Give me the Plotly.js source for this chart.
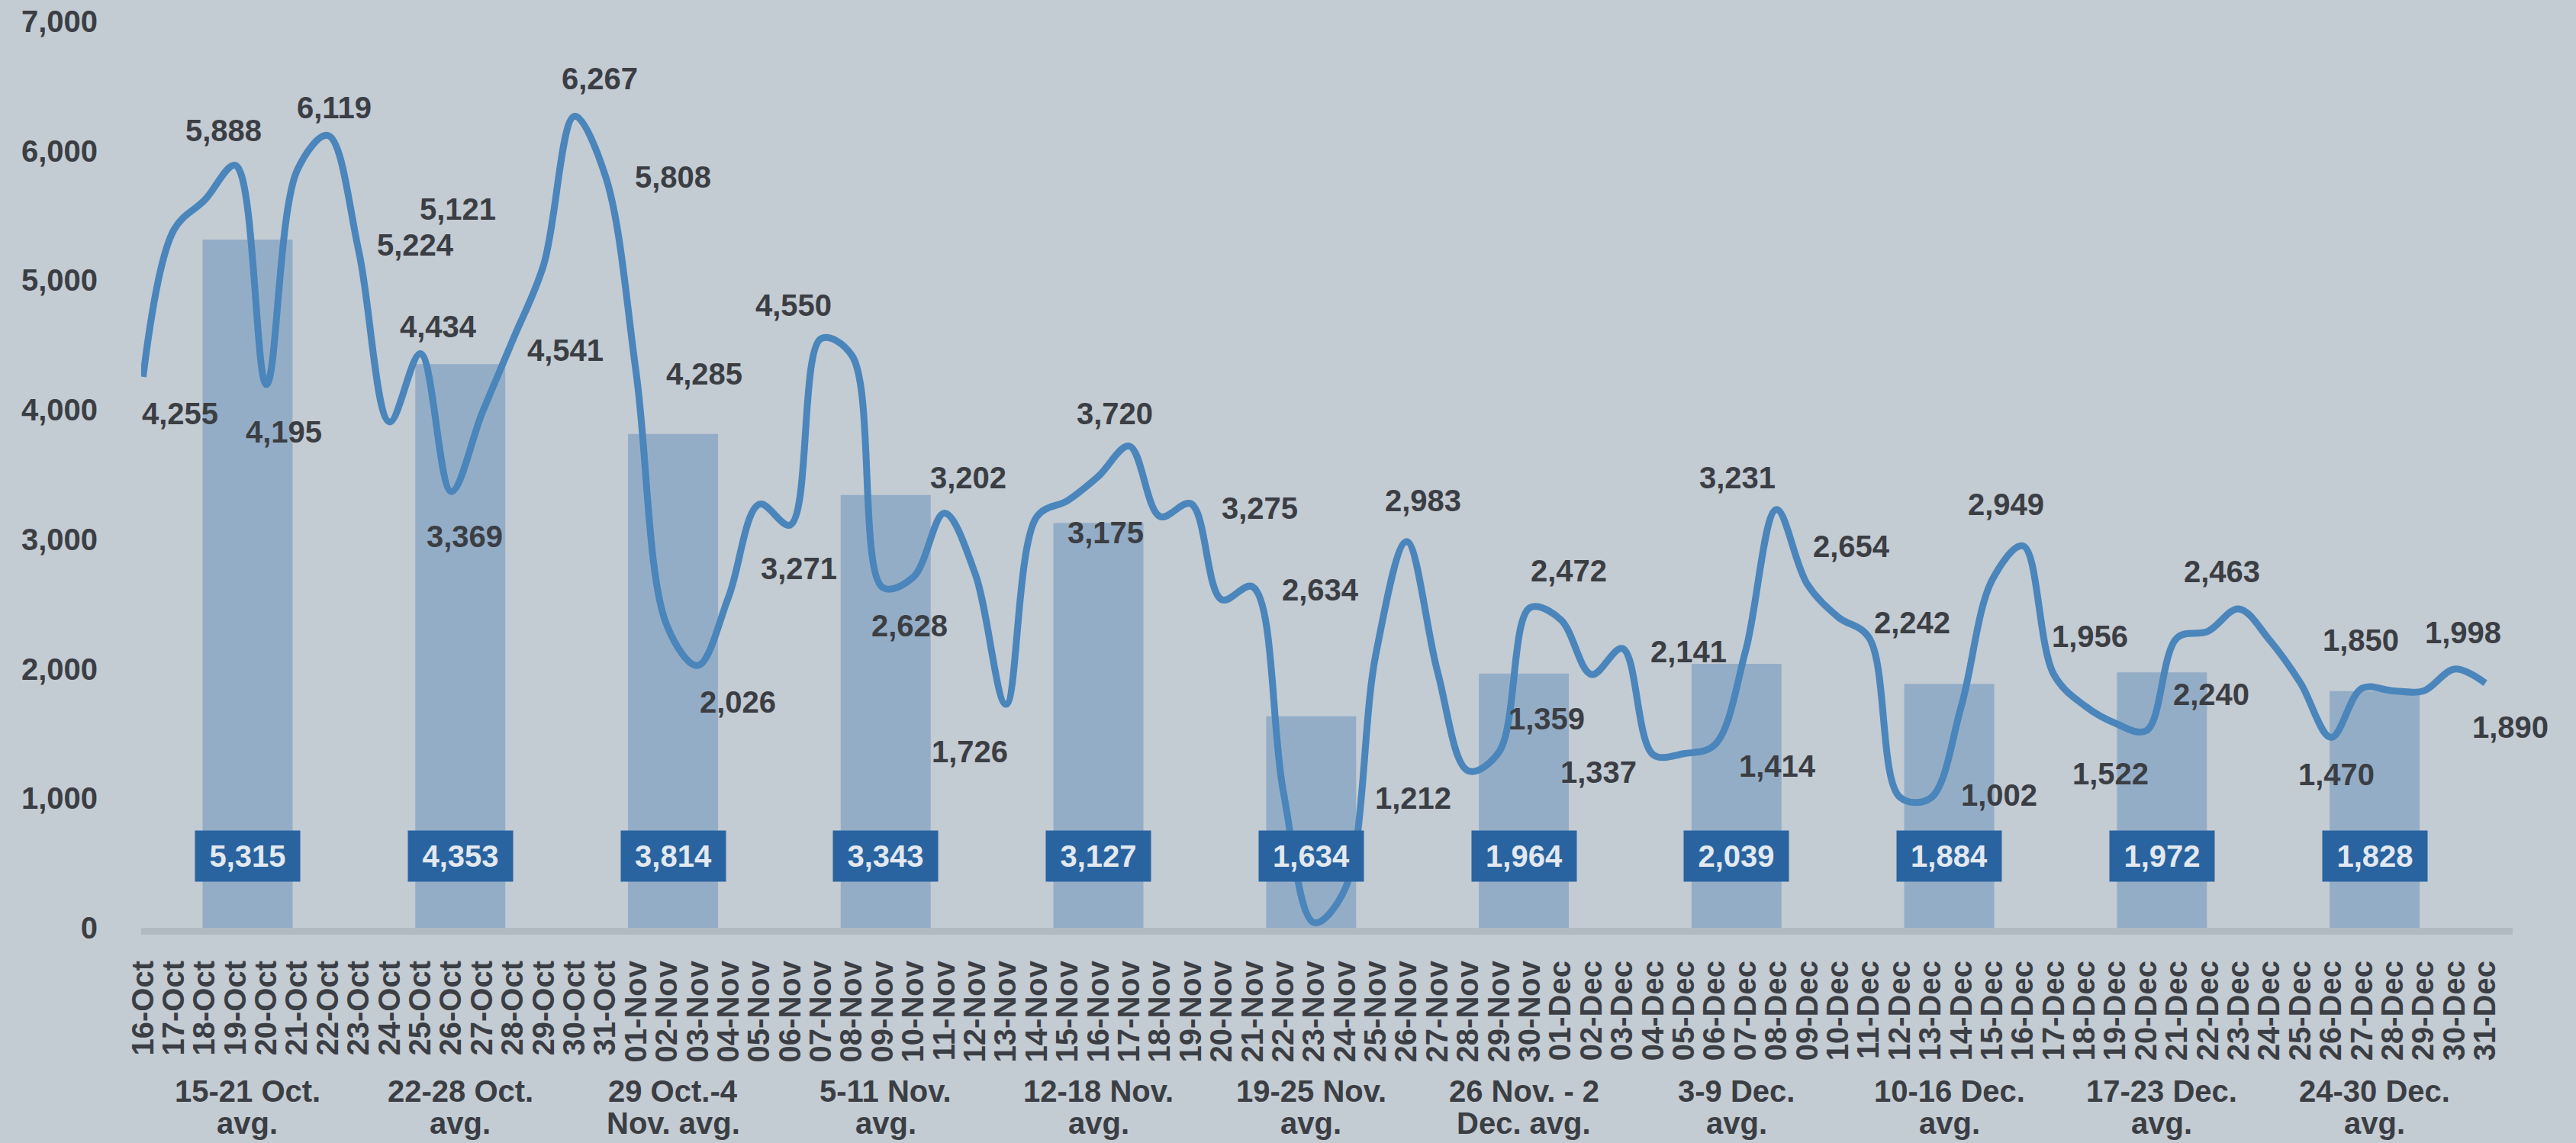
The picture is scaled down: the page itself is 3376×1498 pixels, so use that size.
<!DOCTYPE html>
<html>
<head>
<meta charset="utf-8">
<script src="https://cdn.plot.ly/plotly-3.0.1.min.js"></script>
<style>
  html, body { margin: 0; padding: 0; background: #c3cbd3; }
  #chart { width: 3376px; height: 1498px; }
</style>
</head>
<body>
<div id="chart"></div>
<script>
// ---------- data ----------
const DATES = [
  '16-Oct','17-Oct','18-Oct','19-Oct','20-Oct','21-Oct','22-Oct','23-Oct','24-Oct','25-Oct',
  '26-Oct','27-Oct','28-Oct','29-Oct','30-Oct','31-Oct',
  '01-Nov','02-Nov','03-Nov','04-Nov','05-Nov','06-Nov','07-Nov','08-Nov','09-Nov','10-Nov',
  '11-Nov','12-Nov','13-Nov','14-Nov','15-Nov','16-Nov','17-Nov','18-Nov','19-Nov','20-Nov',
  '21-Nov','22-Nov','23-Nov','24-Nov','25-Nov','26-Nov','27-Nov','28-Nov','29-Nov','30-Nov',
  '01-Dec','02-Dec','03-Dec','04-Dec','05-Dec','06-Dec','07-Dec','08-Dec','09-Dec','10-Dec',
  '11-Dec','12-Dec','13-Dec','14-Dec','15-Dec','16-Dec','17-Dec','18-Dec','19-Dec','20-Dec',
  '21-Dec','22-Dec','23-Dec','24-Dec','25-Dec','26-Dec','27-Dec','28-Dec','29-Dec','30-Dec',
  '31-Dec'
];
const DAILY = [
  4255,5390,5620,5888,4195,5850,6119,5224,3907,4434,
  3369,3974,4541,5121,6267,5808,
  4285,2333,2026,2557,3271,3111,4550,4420,2628,2710,
  3202,2734,1726,3175,3300,3488,3720,3176,3275,2534,
  2634,1050,40,300,2112,2983,1980,1212,1359,2472,
  2380,1956,2157,1337,1345,1414,2141,3231,2654,2400,
  2242,1010,1002,1715,2687,2949,1956,1715,1579,1522,
  2240,2290,2463,2222,1892,1470,1850,1830,1830,1998,
  1890
];
const WEEKS = [
  '15-21 Oct.<br>avg.','22-28 Oct.<br>avg.','29 Oct.-4<br>Nov. avg.','5-11 Nov.<br>avg.',
  '12-18 Nov.<br>avg.','19-25 Nov.<br>avg.','26 Nov. - 2<br>Dec. avg.','3-9 Dec.<br>avg.',
  '10-16 Dec.<br>avg.','17-23 Dec.<br>avg.','24-30 Dec.<br>avg.'
];
const WEEK_AVG = [5315,4353,3814,3343,3127,1634,1964,2039,1884,1972,1828];
const Y_TICKS = [0,1000,2000,3000,4000,5000,6000,7000];

// label placement: [day index, x offset px, y offset px (down)]
const LABEL_PLACE = [
  [0,48,48],[3,-16,-46],[4,23,62],[6,8,-37],[7,74,-8],[9,23,-35],[10,18,59],[12,69,14],
  [13,-113,-73],[14,33,-49],[15,89,2],[16,89,1],[18,52,48],[20,52,84],[22,-36,-44],
  [24,35,50],[26,31,-47],[28,-47,62],[29,90,21],[32,-19,-43],[34,90,6],[36,89,4],
  [41,22,-54],[43,-72,36],[44,62,-43],[45,51,-48],[49,-72,23],[51,82,28],[52,-75,1],
  [53,-51,-42],[54,58,-50],[56,57,-20],[58,90,-4],[61,-22,-55],[62,47,-50],[65,-47,56],
  [66,45,74],[68,-22,-49],[71,7,48],[72,-2,-63],[75,11,-48],[76,33,58]
];

// ---------- style ----------
const BG = '#c3cbd3';
const TEXT = '#3b3e43';
const BAR = '#94adc7';
const LINE = '#4a85bb';
const AXIS = '#b1b9c1';
const BOX = '#2a64a0';
const BOX_TEXT = '#e2e8ef';
const FONT = 'Liberation Sans, Arial, sans-serif';
const FS = 40;
const BOX_Y = 554;

const fmt = v => String(v).replace(/\B(?=(\d{3})+(?!\d))/g, ',');

const traces = [
  {
    type: 'bar', x: WEEKS, y: WEEK_AVG, xaxis: 'x', yaxis: 'y',
    width: 0.423, marker: { color: BAR }, hoverinfo: 'skip'
  },
  {
    type: 'scatter', mode: 'lines', x: DATES, y: DAILY, xaxis: 'x2', yaxis: 'y',
    line: { shape: 'spline', smoothing: 1, color: LINE, width: 9 }, hoverinfo: 'skip'
  }
];

const annotations = [];
LABEL_PLACE.forEach(([i, dx, dy]) => {
  annotations.push({
    xref: 'x2', yref: 'y', x: DATES[i], y: DAILY[i], text: fmt(DAILY[i]),
    showarrow: false, xshift: dx, yshift: -dy, xanchor: 'center', yanchor: 'middle',
    font: { family: FONT, size: FS, color: TEXT, weight: 700 }
  });
});
WEEKS.forEach((w, k) => {
  annotations.push({
    xref: 'x', yref: 'y', x: w, y: BOX_Y, text: fmt(WEEK_AVG[k]),
    showarrow: false, bgcolor: BOX, width: 113, height: 42, borderpad: 12,
    font: { family: FONT, size: FS, color: BOX_TEXT, weight: 700 }
  });
  const parts = w.split('<br>');
  annotations.push({
    xref: 'x', yref: 'paper', x: w, y: 0, yanchor: 'middle', yshift: -214,
    text: parts[0], showarrow: false,
    font: { family: FONT, size: FS, color: TEXT, weight: 700 }
  });
  annotations.push({
    xref: 'x', yref: 'paper', x: w, y: 0, yanchor: 'middle', yshift: -256,
    text: parts[1], showarrow: false,
    font: { family: FONT, size: FS, color: TEXT, weight: 700 }
  });
});

const layout = {
  width: 3376, height: 1498,
  paper_bgcolor: BG, plot_bgcolor: BG,
  margin: { l: 185, r: 83, t: 28, b: 282, pad: 0 },
  showlegend: false,
  font: { family: FONT, size: FS, color: TEXT, weight: 700 },
  xaxis: {
    type: 'category', range: [-0.5004, 10.649], showticklabels: false,
    showgrid: false, zeroline: false, showline: false, ticks: ''
  },
  xaxis2: {
    type: 'category', overlaying: 'x', anchor: 'y', side: 'bottom',
    range: [-0.062, 76.888], tickmode: 'array', tickvals: DATES, ticktext: DATES,
    tickangle: -90, tickfont: { family: FONT, size: FS, color: TEXT, weight: 700 },
    showline: true, linecolor: AXIS, linewidth: 9, layer: 'below traces',
    ticks: '', ticklabelstandoff: 18, showgrid: false, zeroline: false
  },
  yaxis: {
    range: [0, 7000], tickmode: 'array', tickvals: Y_TICKS, ticktext: Y_TICKS.map(fmt),
    showgrid: false, zeroline: false, ticks: '', showline: false,
    ticklabelstandoff: 56, tickfont: { family: FONT, size: FS, color: TEXT, weight: 700 }
  },
  annotations: annotations
};

Plotly.newPlot('chart', traces, layout, { staticPlot: true, displayModeBar: false });
</script>
</body>
</html>
